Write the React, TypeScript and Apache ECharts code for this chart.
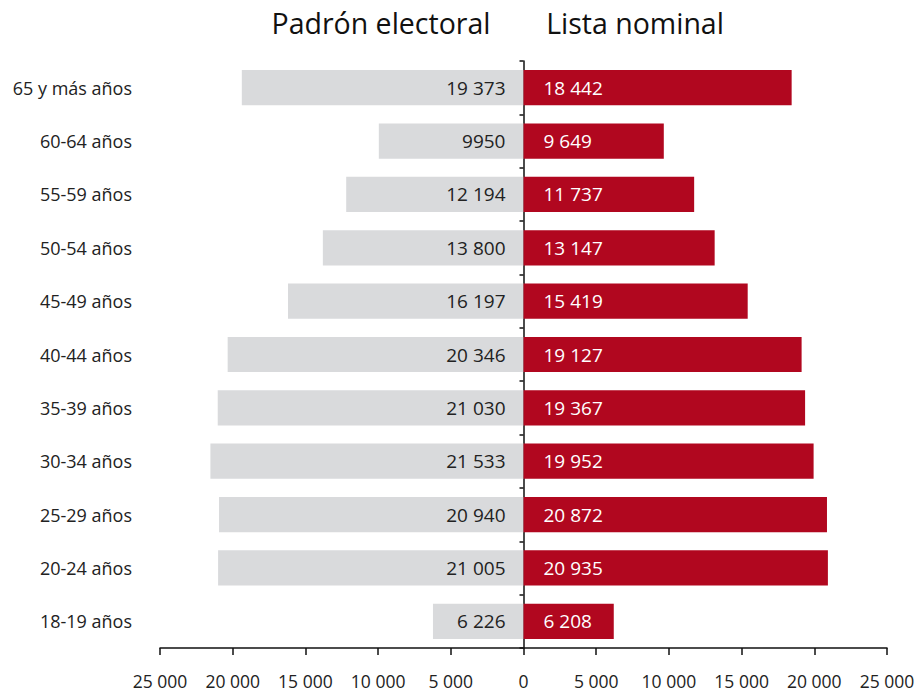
import React, { useEffect, useRef } from "react";
import * as echarts from "echarts";

const categories = [
  "18-19 años", "20-24 años", "25-29 años", "30-34 años", "35-39 años",
  "40-44 años", "45-49 años", "50-54 años", "55-59 años", "60-64 años", "65 y más años",
];
const padron = [6226, 21005, 20940, 21533, 21030, 20346, 16197, 13800, 12194, 9950, 19373];
const padronLabels = ["6 226", "21 005", "20 940", "21 533", "21 030", "20 346", "16 197", "13 800", "12 194", "9950", "19 373"];
const lista = [6208, 20935, 20872, 19952, 19367, 19127, 15419, 13147, 11737, 9649, 18442];
const listaLabels = ["6 208", "20 935", "20 872", "19 952", "19 367", "19 127", "15 419", "13 147", "11 737", "9 649", "18 442"];
const seriesNames = ["Padrón electoral", "Lista nominal"];

const FONT = "Open Sans";

function fmt(v: number): string {
  const a = Math.abs(v);
  const s = String(a);
  return s.replace(/\B(?=(\d{3})+(?!\d))/g, " ");
}

export default function App() {
  const ref = useRef<HTMLDivElement>(null);
  useEffect(() => {
    if (!ref.current) return;
    const chart = echarts.init(ref.current, undefined, { renderer: "svg" });
    chart.setOption({
      animation: false,
      textStyle: { fontFamily: FONT },
      grid: { left: 160, right: 36, top: 61, bottom: 46, containLabel: false },
      graphic: [
        {
          type: "text", x: 381, y: 23,
          style: { text: seriesNames[0], font: `28.5px "${FONT}"`, fill: "#111", textAlign: "center", textVerticalAlign: "middle" },
        },
        {
          type: "text", x: 635, y: 23,
          style: { text: seriesNames[1], font: `28.5px "${FONT}"`, fill: "#111", textAlign: "center", textVerticalAlign: "middle" },
        },
      ],
      xAxis: {
        type: "value",
        min: -25000,
        max: 25000,
        interval: 5000,
        splitLine: { show: false },
        axisLine: { show: true, lineStyle: { color: "#111", width: 1.5 } },
        axisTick: { show: true, length: 7, lineStyle: { color: "#111", width: 1.5 } },
        axisLabel: { margin: 24, fontSize: 17.5, color: "#222", fontFamily: FONT, formatter: (v: number) => fmt(v) },
      },
      yAxis: [
        {
          type: "category",
          data: categories,
          axisLine: { show: true, onZero: true, lineStyle: { color: "#111", width: 1.5 } },
          axisTick: { show: true, length: 4, lineStyle: { color: "#111", width: 1.5 } },
          axisLabel: { show: false },
        },
        {
          type: "category",
          data: categories,
          position: "left",
          axisLine: { show: false, onZero: false },
          axisTick: { show: false },
          axisLabel: { show: true, margin: 28, fontSize: 18, color: "#222", fontFamily: FONT },
        },
      ],
      series: [
        {
          name: seriesNames[0],
          type: "bar",
          stack: "t",
          yAxisIndex: 0,
          barCategoryGap: "34%",
          data: padron.map((v) => -v),
          itemStyle: { color: "#d9dadc" },
          label: {
            show: true,
            position: "insideRight",
            distance: 18,
            fontSize: 19,
            color: "#222",
            fontFamily: FONT,
            formatter: (p: any) => padronLabels[p.dataIndex],
          },
        },
        {
          name: seriesNames[1],
          type: "bar",
          stack: "t",
          yAxisIndex: 0,
          barCategoryGap: "34%",
          data: lista,
          itemStyle: { color: "#b1071f" },
          label: {
            show: true,
            position: "insideLeft",
            distance: 20,
            fontSize: 19,
            color: "#fff",
            fontFamily: FONT,
            formatter: (p: any) => listaLabels[p.dataIndex],
          },
        },
      ],
    });
    return () => chart.dispose();
  }, []);
  return <div ref={ref} style={{ width: 923, height: 694, position: "absolute", left: 0, top: 0 }} />;
}
